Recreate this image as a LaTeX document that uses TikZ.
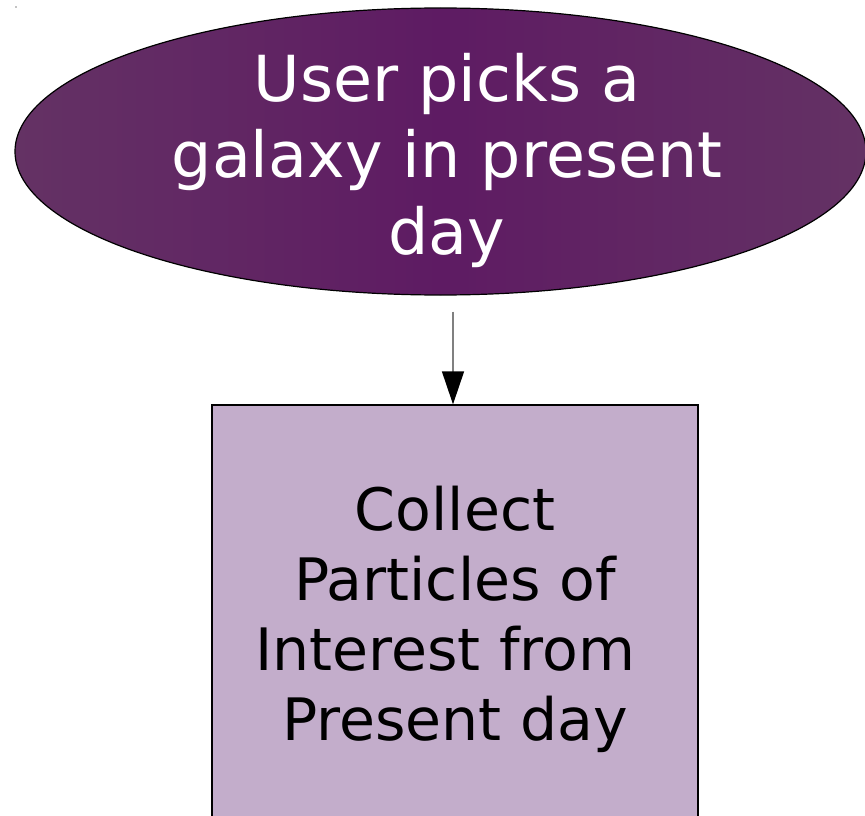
\documentclass[tikz,border=0pt]{standalone}
\usepackage{fontspec}
\setmainfont{DejaVu Sans}
\usetikzlibrary{arrows.meta,shapes.geometric}
\definecolor{ellEdge}{HTML}{643264}
\definecolor{ellMid}{HTML}{5E1B63}
\definecolor{boxFill}{HTML}{C3ADCB}
\definecolor{lineGray}{HTML}{808080}
\tikzset{
  startshape/.style={ellipse, draw=black, line width=1.2pt, inner sep=0pt,
    minimum width=851pt, minimum height=287pt,
    left color=ellEdge, right color=ellEdge, middle color=ellMid},
  starttext/.style={text=white, align=center, font=\fontsize{63.5}{76.5}\selectfont},
  stepbox/.style={rectangle, draw=black, line width=1.3pt, fill=boxFill, inner sep=0pt,
    minimum width=486pt, minimum height=429pt, align=center,
    font=\fontsize{58.5}{70}\selectfont},
  flow/.style={draw=lineGray, line width=1.3pt, -{Triangle[color=black,length=33pt,width=22pt]}}
}
\begin{document}
\begin{tikzpicture}[x=1pt,y=1pt]
\useasboundingbox (0,0) rectangle (865,-816);
\clip (0,0) rectangle (865,-816);
\fill[black] (16,-7) circle (0.6);
\node[startshape] (a) at (440.5,-151.5) {};
\node[starttext] (at) at (447,-160) {User picks a\\galaxy in present\\day};
\node[stepbox] (b) at (455,-619.5) {Collect\\Particles of\\Interest from\rule{19pt}{0pt}\\Present day};
\coordinate (s) at ([yshift=-16pt]a.south -| 453,0);
\coordinate (e) at (b.north -| 453,0);
\draw[flow] (s) -- (e);
\end{tikzpicture}
\end{document}
